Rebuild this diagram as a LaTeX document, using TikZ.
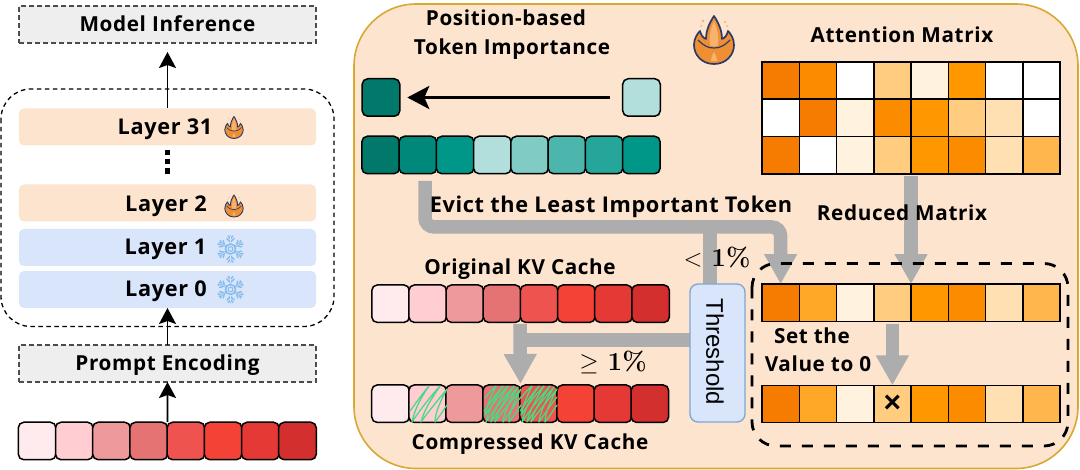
\documentclass[tikz,border=0pt]{standalone}
\usepackage{fontspec}
\usetikzlibrary{arrows.meta,calc}
\newfontfamily\comicf[LetterSpace=3]{Open Sans}
\newfontfamily\plainf{Liberation Sans}
\definecolor{panel}{HTML}{FDE4CE}
\definecolor{gold}{HTML}{D9A832}
\definecolor{bluelayer}{HTML}{D8E5FB}
\definecolor{graybox}{HTML}{EEEEEE}
\definecolor{conn}{HTML}{ADADAD}
\definecolor{flameo}{HTML}{EF8F33}
\definecolor{flamel}{HTML}{F7B26E}
\definecolor{navy}{HTML}{2B3A67}
\definecolor{ice}{HTML}{86BDEB}
\definecolor{scrib}{HTML}{45DC82}
\definecolor{threshline}{HTML}{7FA6D2}
% reds
\definecolor{ra}{HTML}{FFEBEE}\definecolor{rb}{HTML}{FFCDD2}\definecolor{rc}{HTML}{EF9A9A}\definecolor{rd}{HTML}{E57373}
\definecolor{re}{HTML}{EF5350}\definecolor{rf}{HTML}{F44336}\definecolor{rg}{HTML}{E53935}\definecolor{rh}{HTML}{D32F2F}
% teals
\definecolor{ta}{HTML}{00796B}\definecolor{tb}{HTML}{00897B}\definecolor{tc}{HTML}{009688}\definecolor{td}{HTML}{B2DFDB}
\definecolor{te}{HTML}{80CBC4}\definecolor{tf}{HTML}{4DB6AC}\definecolor{tg}{HTML}{26A69A}
% oranges
\definecolor{oa}{HTML}{F57C00}\definecolor{ob}{HTML}{FB8C00}\definecolor{oc}{HTML}{FF9800}\definecolor{od}{HTML}{FFA726}
\definecolor{oe}{HTML}{FFB74D}\definecolor{of}{HTML}{FFCC80}\definecolor{og}{HTML}{FFE0B2}\definecolor{oh}{HTML}{FFF3E0}
\tikzset{
  lbl/.style={font=\comicf\bfseries\fontsize{20.7}{24}\selectfont,text=black,inner sep=0pt,text height=14.6pt,text depth=0pt},
  lblbig/.style={lbl,font=\comicf\bfseries\fontsize{21.7}{24}\selectfont},
  cellr/.style={draw=black,line width=1.5pt,rounded corners=5.5pt,minimum width=37.6pt,minimum height=37.5pt,inner sep=0pt,outer sep=0pt},
  cellm/.style={draw=black,line width=1.5pt,minimum width=37.25pt,minimum height=37.3pt,inner sep=0pt,outer sep=0pt},
  layerbox/.style={rounded corners=5pt,minimum width=297pt,minimum height=37pt,inner sep=0pt,outer sep=0pt,lbl},
  dashbox/.style={draw=black!70,dashed,dash pattern=on 5pt off 3pt,line width=1.2pt,fill=graybox,minimum width=297pt,minimum height=37pt,inner sep=0pt,outer sep=0pt,lbl},
  thinarrow/.style={line width=1.9pt,-{Stealth[length=16pt,width=17pt,inset=3pt]}},
  boldarrow/.style={line width=3.4pt,-{Stealth[length=22pt,width=23pt,inset=5pt]}},
  grayline/.style={draw=conn,line width=13.5pt},
  grayarrow/.style={draw=conn,line width=13.5pt,-{Triangle[length=30pt,width=31pt]}},
  bignum/.style={font=\fontsize{26}{30}\selectfont,inner sep=0pt},
  scribline/.style={draw=scrib,line width=1.25pt,line join=round,line cap=round},
}
\newcommand{\tokrow}[6]{% name, x0, ycentre, step, style, colours
  \foreach \c [count=\k from 1] in {#6} {
    \node[#5,fill=\c] (#1\k) at ({#2+(\k-0.5)*#4},#3) {};
  }
}
\newcommand{\flameicon}[4]{% x,y,scale,line width
  \begin{scope}[shift={(#1,#2)},scale=#3,line join=round]
    \path[draw=navy,line width=#4,fill=flameo]
      (0,24) .. controls (-13,24) and (-20,14) .. (-20,5)
      .. controls (-20,-1) and (-17,-6) .. (-14,-9)
      .. controls (-13,-5) and (-11,-2) .. (-8,-1)
      .. controls (-8,-10) and (-4,-18) .. (0,-24)
      .. controls (4,-18) and (8,-10) .. (8,-1)
      .. controls (11,-2) and (13,-5) .. (14,-9)
      .. controls (17,-6) and (20,-1) .. (20,5)
      .. controls (20,14) and (13,24) .. (0,24) -- cycle;
    \path[fill=flamel] (0,-19) .. controls (-4,-10) and (-5,-2) .. (-4,5)
      .. controls (-1,7) and (1,7) .. (4,5)
      .. controls (5,-2) and (4,-10) .. (0,-19) -- cycle;
    \path[draw=navy,line width=0.7*#4] (-16,0) .. controls (-10,6) and (-6,8) .. (0,8)
      .. controls (6,8) and (10,6) .. (16,0);
    \path[fill=flamel] (0,12) .. controls (-2,15) and (-3,19) .. (-3,21)
      -- (3,21) .. controls (3,19) and (2,15) .. (0,12) -- cycle;
    \fill[flameo!70] (-11,-19) circle (1.3) (-13,-14) circle (1) (11,-18) circle (1.2) (13,-14) circle (1);
  \end{scope}
}
\newcommand{\snowicon}[2]{% x,y
  \begin{scope}[shift={(#1,#2)}]
    \foreach \a in {90,150,210,270,330,30} {
      \begin{scope}[rotate=\a]
        \draw[ice,line width=1.9pt,line cap=round] (5,0) -- (13,0);
        \draw[ice,line width=1.5pt,line cap=round] (7,0) -- (10.5,3.6) (7,0) -- (10.5,-3.6);
        \draw[ice,line width=1.5pt,line cap=round] (10.5,0) -- (13,2.4) (10.5,0) -- (13,-2.4);
        \draw[bluelayer,line width=0.5pt] (6,0) -- (13,0);
      \end{scope}
    }
    \draw[ice,line width=1.5pt] (0,0) circle (5);
    \draw[ice,line width=1pt] (0,0) circle (2.4);
  \end{scope}
}
\newcommand{\scribble}[1]{% left edge x of the cell
  \begin{scope}[shift={(#1,0)}]
    \draw[scribline]
      (0,411) .. controls (6,403) and (12,394) .. (19,386)
      .. controls (12,396) and (5,408) .. (2,422)
      .. controls (10,410) and (20,397) .. (30,386)
      .. controls (22,398) and (14,410) .. (11,422)
      .. controls (18,412) and (28,400) .. (37,389)
      .. controls (32,398) and (25,412) .. (25,422)
      .. controls (29,417) and (33,411) .. (37,405);
  \end{scope}
}
\newcommand{\scribbleb}[1]{% denser second pass
  \begin{scope}[shift={(#1,0)}]
    \draw[scribline]
      (1,398) .. controls (5,393) and (8,389) .. (12,386)
      .. controls (8,394) and (3,405) .. (1,415)
      .. controls (8,405) and (16,394) .. (24,386)
      .. controls (17,397) and (9,412) .. (7,422)
      .. controls (15,410) and (25,397) .. (34,387)
      .. controls (27,398) and (20,412) .. (19,422)
      .. controls (24,415) and (31,404) .. (37,397);
  \end{scope}
}
\begin{document}
\begin{tikzpicture}[x=1pt,y=-1pt]
\useasboundingbox (0,0) rectangle (1080,470);
\fill[white] (0,0) rectangle (1080,470);

% ---------- left column ----------
\node[dashbox] (mi) at (167.5,24.5) {Model Inference};
\path[draw=black,dashed,dash pattern=on 4.5pt off 3.5pt,line width=1.3pt,rounded corners=30pt]
  (1,89) rectangle (334,326.5);
\node[layerbox,fill=panel] (l31) at (167.5,127) {};
\node[layerbox,fill=panel] (l2) at (167.5,203) {};
\node[layerbox,fill=bluelayer] (l1) at (167.5,247.5) {};
\node[layerbox,fill=bluelayer] (l0) at (167.5,289.5) {};
\node[lblbig] (l31t) at (165,127) {Layer 31};
\node[lblbig] (l2t) at (166,204) {Layer 2};
\node[lblbig] (l1t) at (165.5,247.5) {Layer 1};
\node[lblbig] (l0t) at (166,289.5) {Layer 0};
\node[dashbox] (pe) at (167.5,363.5) {Prompt Encoding};
\foreach \yy in {152.5,161.5,171} \fill[black] (164.5,\yy-2.6) rectangle (169.5,\yy+2.6);
\flameicon{234}{127.5}{0.46}{0.9pt}
\flameicon{234}{206}{0.46}{0.9pt}
\snowicon{230.5}{249}
\snowicon{230.5}{289.5}
\tokrow{t}{18.5}{441}{37.2}{cellr}{ra,rb,rc,rd,re,rf,rg,rh}
\draw[thinarrow,shorten >=9pt] (l31.north) -- (mi.south);
\draw[thinarrow] (pe.north) -- (l0.south);
\draw[thinarrow] (t4.north east) -- (pe.south);

% ---------- right panel ----------
\path[draw=gold,line width=1.6pt,fill=panel,rounded corners=62pt] (354,4) rectangle (1078,468.5);
\flameicon{714}{40}{1}{1.7pt}

% teal part
\node[cellr,fill=ta] (dark) at (381,97.5) {};
\node[cellr,fill=td] (light) at (641.5,97.5) {};
\draw[boldarrow,shorten >=7.5pt,shorten <=13pt] (light.west) -- (dark.east);
\tokrow{q}{362}{155}{37.25}{cellr}{ta,tb,tc,td,te,tf,tg,tc}

% matrix
\tokrow{ma}{762}{80.6}{37.25}{cellm}{oa,ob,white,of,oh,oc,white,white}
\tokrow{mb}{762}{118}{37.25}{cellm}{white,oa,oh,ob,oc,of,og,white}
\tokrow{mc}{762}{155.3}{37.25}{cellm}{oa,white,oh,of,oc,ob,og,oe}

% KV rows
\tokrow{k}{372}{303.7}{37.15}{cellr}{ra,rb,rc,rd,re,rf,rg,rh}
\tokrow{c}{372}{403.7}{37.05}{cellr}{ra,rb,rc,rd,re,rf,rg,rh}
\scribble{410}
\scribble{484}
\scribbleb{484}
\scribble{520}
\scribbleb{520}

% reduced rows
\tokrow{r}{762}{302.7}{37.25}{cellm}{oa,od,oh,of,oc,ob,og,oe}
\tokrow{s}{762}{404}{37.25}{cellm}{oa,od,oh,of,oc,ob,og,oe}

% coordinates of the grey connectors
\coordinate (evstart) at (425,181);
\coordinate (evcorner) at (r1.north |- 0,227);
\coordinate (thtop) at (710,227);
\coordinate (thfoot) at (710,284);
\coordinate (redstart) at (mc5.south west);
\coordinate (tolow) at (520,340);
\coordinate (kvfoot) at (520,324);
\coordinate (setstart) at (s4.north |- 0,324);
\coordinate (ctip) at (520.5,384);

\draw[grayarrow,rounded corners=9pt] (evstart) |- (evcorner) -- (r1.north);
\draw[grayline] (thfoot) -- (thtop);
\draw[grayarrow] ($(redstart)+(0,2)$) -- (r4.north east);
\draw[grayline] (690,340) -- (tolow);
\draw[grayarrow] (kvfoot) -- (ctip);
\draw[grayarrow] (setstart) -- (s4.north);

% threshold
\node[draw=threshline,line width=1.3pt,fill=bluelayer,rounded corners=8pt,minimum width=55pt,minimum height=138pt,inner sep=0pt,outer sep=0pt] (th) at (717.5,353) {};
\node[rotate=-90,font=\plainf\fontsize{24}{26}\selectfont,inner sep=0pt] (thl) at (715,352) {Threshold};

% dashed group
\path[draw=black,dashed,dash pattern=on 11pt off 11pt,line width=2.8pt,rounded corners=24pt]
  (752,263.5) rectangle (1068,446);

% labels
\node[lbl] (pb) at (506,18) {Position-based};
\node[lbl] (ti) at (512,47) {Token Importance};
\node[lbl] (am) at (902,35) {Attention Matrix};
\node[lblbig] (ev) at (611,205) {Evict the Least Important Token};
\node[lbl] (rm) at (902,213) {Reduced Matrix};
\node[lbl] (ok) at (520,267) {Original KV Cache};
\node[lbl] (ck) at (530,442) {Compressed KV Cache};
\node[lbl] (st) at (812,336) {Set the};
\node[lbl] (vt) at (818,364) {Value to 0};
\node[font=\plainf\bfseries\fontsize{30}{30}\selectfont,inner sep=0pt] (xm) at (s4.center) {×};
\node[bignum] (lt) at (717,257) {$<$\hspace{9pt}\textbf{1\%}};
\node[bignum] (ge) at (613,362) {$\geq$\hspace{9pt}\textbf{1\%}};
\end{tikzpicture}
\end{document}
